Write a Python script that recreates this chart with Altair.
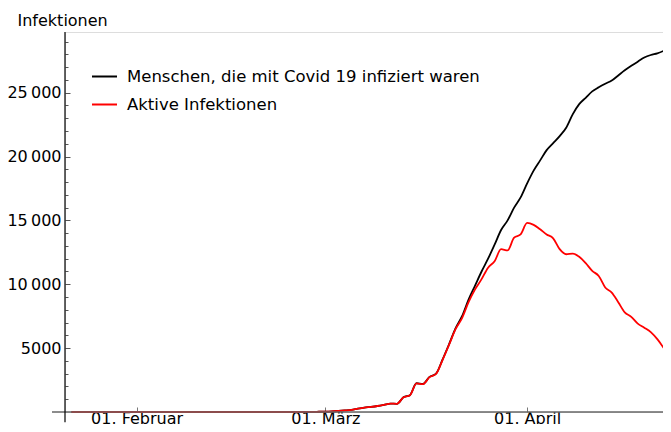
import altair as alt
import pandas as pd

# ---- data ----
dates = pd.date_range("2020-01-22", "2020-04-22", freq="D").strftime("%Y-%m-%d").tolist()

infiziert = [
    # Jan 22 - Jan 31
    0, 0, 0, 0, 0, 0, 0, 0, 0, 0,
    # Feb 1 - Feb 29
    0, 0, 0, 0, 0, 0, 0, 0, 0, 0, 0, 0, 0, 0, 0, 0, 0, 0, 0, 0,
    0, 0, 0, 0, 1, 1, 8, 8, 18,
    # Mar 1 - Mar 31
    30, 50, 80, 120, 170, 260, 340, 400, 470, 560,
    660, 640, 1150, 1320, 2250, 2200, 2750, 3000, 4100, 5300,
    6550, 7500, 8800, 9900, 11000, 12000, 13100, 14250, 15000, 16000,
    16800,
    # Apr 1 - Apr 22
    17900, 18900, 19700, 20500, 21050, 21600, 22250, 23300, 24100, 24600,
    25100, 25420, 25700, 25950, 26350, 26750, 27100, 27430, 27750, 27950,
    28080, 28280,
]

aktiv = [
    # Jan 22 - Jan 31
    0, 0, 0, 0, 0, 0, 0, 0, 0, 0,
    # Feb 1 - Feb 29
    0, 0, 0, 0, 0, 0, 0, 0, 0, 0, 0, 0, 0, 0, 0, 0, 0, 0, 0, 0,
    0, 0, 0, 0, 1, 1, 8, 8, 18,
    # Mar 1 - Mar 31
    30, 50, 80, 120, 170, 260, 340, 400, 470, 560,
    660, 640, 1150, 1310, 2240, 2180, 2730, 2980, 4070, 5250,
    6480, 7350, 8600, 9600, 10400, 11300, 11800, 12750, 12650, 13650,
    13900,
    # Apr 1 - Apr 22
    14800, 14650, 14300, 13900, 13600, 12750, 12350, 12400, 12150, 11650,
    11050, 10650, 9750, 9350, 8600, 7800, 7450, 6920, 6600, 6250,
    5700, 5000,
]

series_names = ["Menschen, die mit Covid 19 infiziert waren", "Aktive Infektionen"]
series_colors = ["#000000", "#ff0000"]

x_tick_dates = ["2020-02-01", "2020-03-01", "2020-04-01"]
month_names = ["Januar", "Februar", "März", "April"]
y_major = [5000, 10000, 15000, 20000, 25000]
y_minor = [1000, 2000, 3000, 4000, 6000, 7000, 8000, 9000, 11000, 12000, 13000, 14000,
           16000, 17000, 18000, 19000, 21000, 22000, 23000, 24000, 26000, 27000, 28000, 29000]

n = len(dates)
df = pd.DataFrame({
    "date": dates + dates,
    "value": infiziert + aktiv,
    "series": [series_names[0]] * n + [series_names[1]] * n,
    "order": [0] * n + [1] * n,
})

# axis-line extents (data units)
y_axis_line = pd.DataFrame({"d": ["2020-01-21"], "y1": [29750], "y2": [-800]})
x_axis_line = pd.DataFrame({"d1": ["2020-01-19"], "d2": ["2020-04-23"], "y": [0]})

FONT = "DejaVu Sans"
FS = 16

x_dom = [alt.DateTime(year=2020, month=1, date=21, utc=True),
         alt.DateTime(year=2020, month=4, date=21, hours=21, utc=True)]
x_scale = alt.Scale(type="utc", domain=x_dom)
y_scale = alt.Scale(domain=[0, 29750], nice=False, zero=False)

x_axis = alt.Axis(
    values=[alt.DateTime(year=2020, month=int(d[5:7]), date=1, utc=True) for d in x_tick_dates],
    labelExpr="'01. ' + " + str(month_names) + "[utcmonth(datum.value)]",
    domain=False, grid=False, ticks=True, tickSize=5, offset=-5,
    tickColor="#777777", tickWidth=1,
    labelFont=FONT, labelFontSize=FS, labelColor="#000000",
    labelBaseline="alphabetic", labelPadding=11,
    title=None,
)

y_axis_major = alt.Axis(
    values=y_major,
    labelExpr="datum.value >= 10000 ? replace(format(datum.value, ','), ',', '\u2009') : format(datum.value, 'd')",
    orient="left", domain=False, grid=False, tickSize=5, offset=-5,
    tickColor="#555555", tickWidth=1,
    labelFont=FONT, labelFontSize=FS, labelColor="#000000", labelPadding=4,
    title="Infektionen", titleAngle=0, titleAlign="left", titleBaseline="alphabetic",
    titleX=-53, titleY=-7, titleFont=FONT, titleFontSize=FS, titleFontWeight="normal",
    titleColor="#000000",
)

y_axis_minor = alt.Axis(
    values=y_minor, orient="left", domain=False, grid=False, labels=False,
    tickSize=3, offset=-3, tickColor="#555555", tickWidth=1, title=None,
)

lines = alt.Chart(df).mark_line(strokeWidth=1.8, interpolate="monotone").encode(
    x=alt.X("date:T", scale=x_scale, axis=x_axis),
    y=alt.Y("value:Q", scale=y_scale, axis=y_axis_major),
    color=alt.Color(
        "series:N",
        scale=alt.Scale(domain=series_names, range=series_colors),
        legend=alt.Legend(
            title=None, orient="none", legendX=26, legendY=31,
            symbolType="stroke", symbolSize=625, symbolStrokeWidth=2,
            labelFont=FONT, labelFontSize=16.5, labelColor="#000000", labelLimit=0,
            labelOffset=9, rowPadding=6, padding=0,
        ),
    ),
    order=alt.Order("order:Q"),
)

minor_ticks = alt.Chart(pd.DataFrame({"v": y_minor})).mark_point(opacity=0).encode(
    y=alt.Y("v:Q", scale=y_scale, axis=y_axis_minor),
)

y_line = alt.Chart(y_axis_line).mark_rule(color="#000000", strokeWidth=1.2).encode(
    x=alt.X("d:T", scale=x_scale),
    y=alt.Y("y1:Q", scale=y_scale, axis=None),
    y2="y2:Q",
)

x_line = alt.Chart(x_axis_line).mark_rule(color="#666666", strokeWidth=1.5).encode(
    x=alt.X("d1:T", scale=x_scale),
    x2="d2:T",
    y=alt.Y("y:Q", scale=y_scale, axis=None),
)

chart = alt.layer(lines, minor_ticks, x_line, y_line).resolve_axis(y="independent").properties(
    width=598, height=380,
    autosize=alt.AutoSizeParams(type="none"),
    padding={"left": 57, "top": 24, "right": 0, "bottom": 12},
).configure_view(stroke=None, strokeWidth=0).configure_axis(
    grid=False, domain=False
).configure(font=FONT)

chart.save("out.html", embed_options={"renderer": "svg", "actions": False})
